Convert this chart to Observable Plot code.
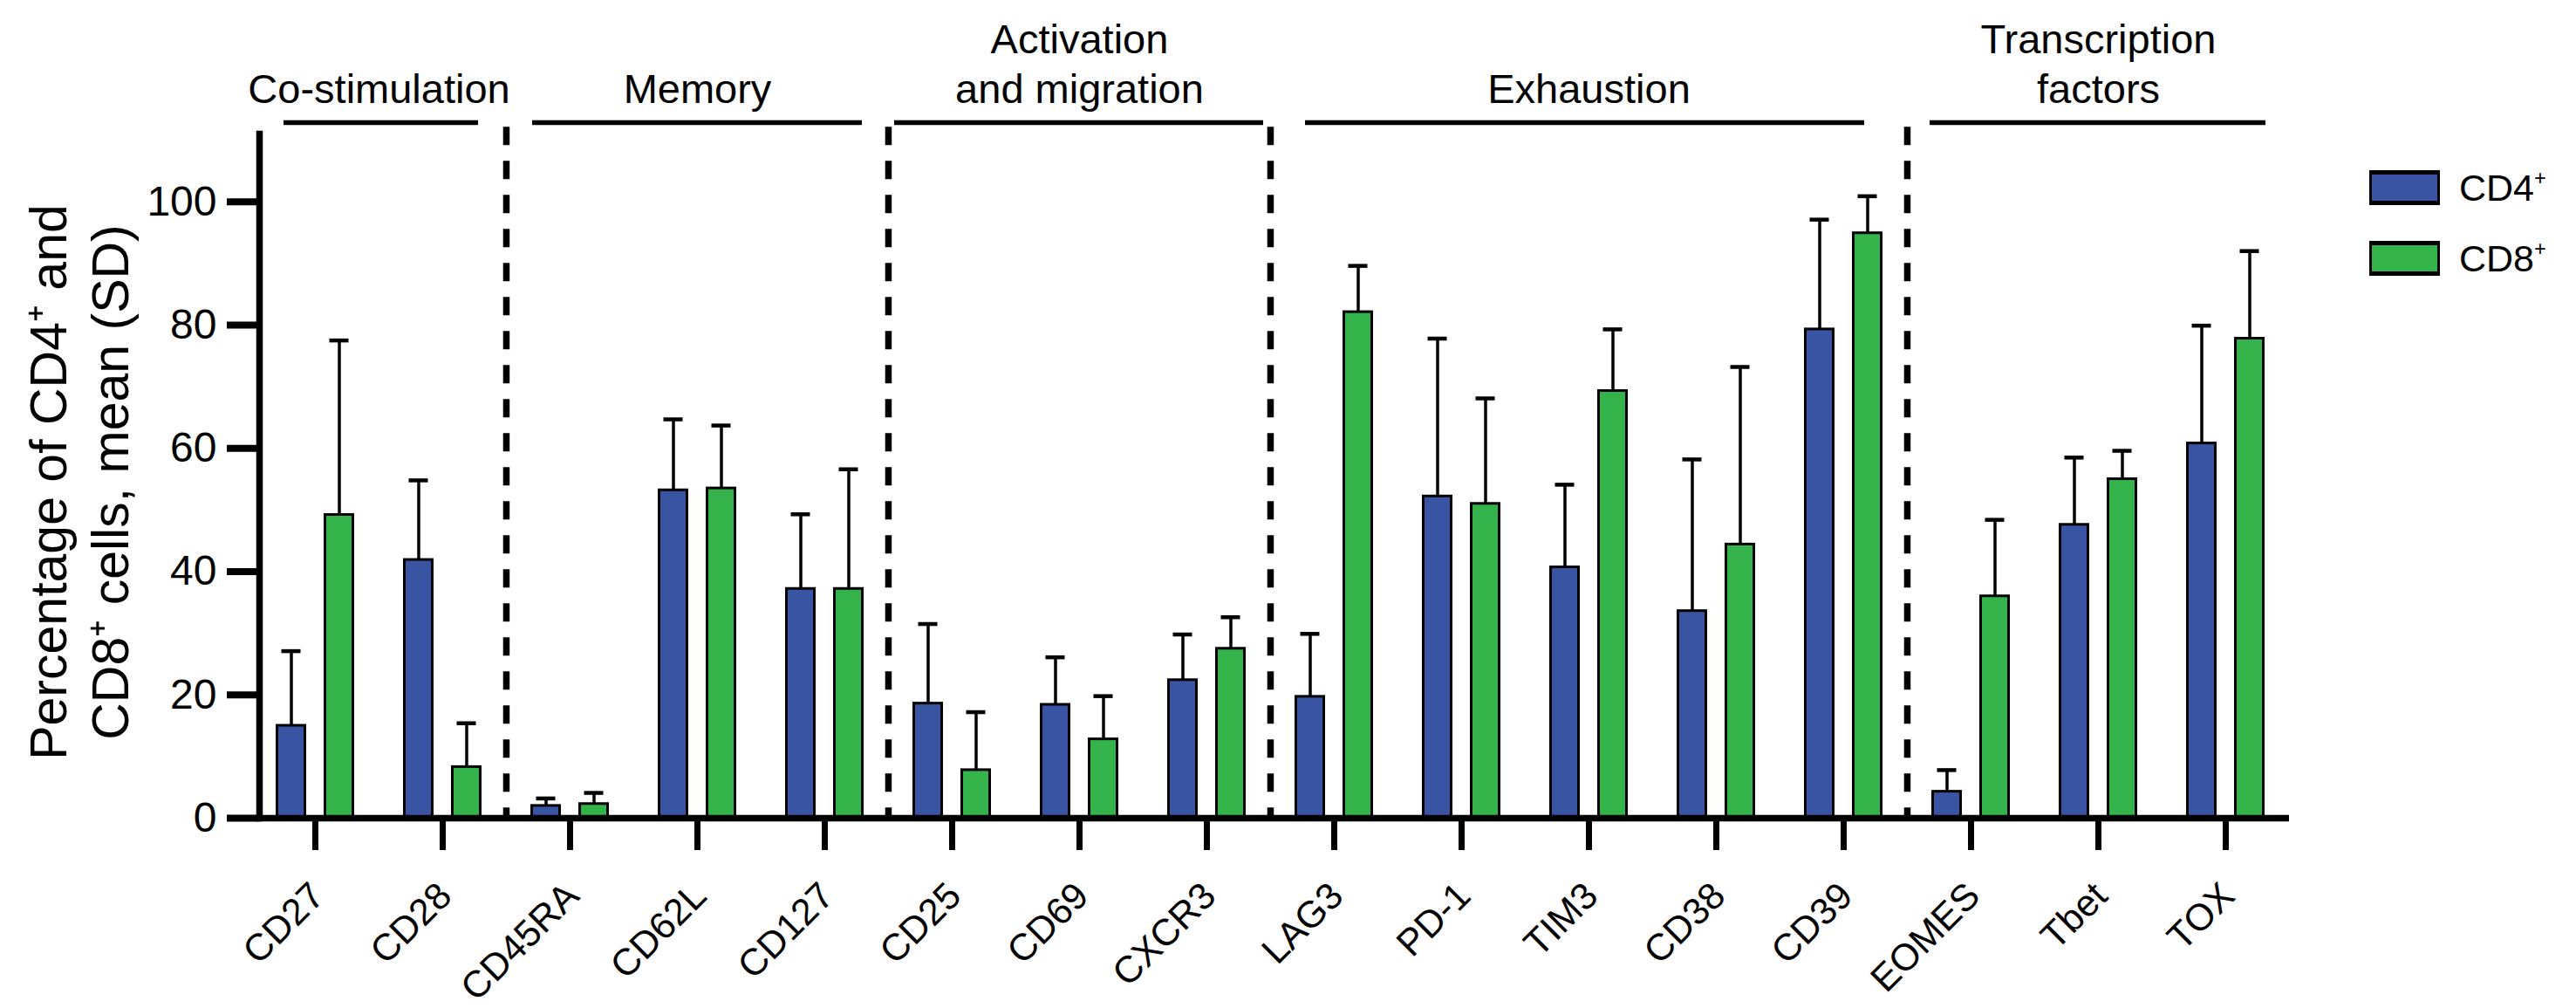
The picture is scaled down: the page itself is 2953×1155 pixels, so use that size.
<!DOCTYPE html>
<html>
<head>
<meta charset="utf-8">
<script src="https://cdn.jsdelivr.net/npm/d3@7"></script>
<script src="https://cdn.jsdelivr.net/npm/@observablehq/plot@0.6"></script>
<style>
  html, body { margin: 0; padding: 0; background: #fff; }
  #wrap { position: relative; width: 2953px; height: 1155px; background: #fff; font-family: "Liberation Sans", Arial, sans-serif; }
  #legend { position: absolute; left: 2716px; top: 194px; }
  .lg-row { display: flex; align-items: center; height: 42px; margin-bottom: 39px; }
  .lg-sw { width: 81px; height: 40px; box-sizing: border-box; border: 3.5px solid #000; border-top-width: 5px; border-bottom-width: 5px; }
  .lg-tx { margin-left: 22px; font-size: 43px; color: #000; line-height: 1; }
  .lg-tx sup { font-size: 0.55em; vertical-align: 0.75em; }
</style>
</head>
<body>
<div id="wrap">
  <div id="chart"></div>
  <div id="legend"></div>
</div>
<script>
// ---- data ----
const markers = ["CD27","CD28","CD45RA","CD62L","CD127","CD25","CD69","CXCR3","LAG3","PD-1","TIM3","CD38","CD39","EOMES","Tbet","TOX"];
const groupNames = ["Co-stimulation","Memory","Activation\nand migration","Exhaustion","Transcription\nfactors"];
const groupSizes = [2, 3, 3, 5, 3];
const cd4Mean = [15.0, 41.9, 2.0, 53.2, 37.2, 18.6, 18.4, 22.4, 19.7, 52.2, 40.7, 33.6, 79.3, 4.3, 47.6, 60.8];
const cd4SD   = [12.1, 12.9, 1.2, 11.5, 12.1, 12.9, 7.7, 7.4, 10.2, 25.6, 13.4, 24.6, 17.8, 3.5, 10.9, 19.1];
const cd8Mean = [49.2, 8.3, 2.3, 53.5, 37.2, 7.8, 12.8, 27.5, 82.1, 51.0, 69.3, 44.4, 94.9, 36.0, 55.0, 77.8];
const cd8SD   = [28.3, 7.1, 1.8, 10.2, 19.4, 9.4, 7.0, 5.1, 7.5, 17.1, 10.0, 28.8, 6.0, 12.4, 4.6, 14.2];
const seriesNames = ["CD4⁺", "CD8⁺"];
const yTicks = [0, 20, 40, 60, 80, 100];
const yTitle = "Percentage of CD4⁺ and\nCD8⁺ cells, mean (SD)";

// ---- styles / layout ----
const W = 2953, H = 1155;
const ML = 297, MR = 329, MT = 153, MB = 218, xInsetLeft = -10;
const colors = ["#3a54a4", "#33b34a"];
const barOffset = [-27.5, 27.5];
const step = (W - ML - MR - xInsetLeft) / markers.length;
const bracketLevel = 112.85;
const sepTop = 112.1;
const bracketInsets = [[37, 32], [30, 30], [7, 8], [40, 49], [26, 27]];

// ---- derived tables ----
const rows = markers.map((m, i) => ({
  marker: m,
  mean: [cd4Mean[i], cd8Mean[i]],
  sd: [cd4SD[i], cd8SD[i]]
}));
let start = 0;
const groups = groupNames.map((name, g) => {
  const members = markers.slice(start, start + groupSizes[g]);
  start += groupSizes[g];
  return {name, members, first: members[0], last: members[members.length - 1]};
});
const separators = groups.slice(1).map(g => g.first);

const marks = [];
// dashed separators
marks.push(Plot.ruleX(separators, {x: d => d, y1: sepTop, y2: 0, dx: -step / 2, stroke: "#000", strokeWidth: 7.5, strokeDasharray: "21,18"}));
// bars with error bars
seriesNames.forEach((s, k) => {
  marks.push(Plot.ruleX(rows, {x: "marker", y1: d => d.mean[k], y2: d => d.mean[k] + d.sd[k], dx: barOffset[k], stroke: "#000", strokeWidth: 3.5}));
  marks.push(Plot.tickY(rows, {x: "marker", y: d => d.mean[k] + d.sd[k], dx: barOffset[k], insetLeft: 62, insetRight: 62, stroke: "#000", strokeWidth: 4.5}));
  marks.push(Plot.barY(rows, {x: "marker", y: d => d.mean[k], dx: barOffset[k], insetLeft: 57, insetRight: 57, fill: colors[k], stroke: "#000", strokeWidth: 3}));
});
// axes
marks.push(Plot.ruleY([0], {stroke: "#000", strokeWidth: 7.5}));
marks.push(Plot.frame({anchor: "left", stroke: "#000", strokeWidth: 7.5}));
marks.push(Plot.axisY({ticks: yTicks, tickSize: 37, tickPadding: 12, strokeWidth: 8, fontSize: 48, label: null}));
marks.push(Plot.axisX({tickSize: 37, strokeWidth: 7, tickFormat: () => "", label: null}));
// category labels
marks.push(Plot.text(markers, {x: d => d, text: d => d, frameAnchor: "bottom", rotate: -45, textAnchor: "end", lineAnchor: "top", dx: -9, dy: 70, fontSize: 43}));
// y title
marks.push(Plot.text([yTitle], {text: d => d, frameAnchor: "left", rotate: -90, textAnchor: "middle", lineAnchor: "middle", dx: -209, dy: 7, fontSize: 59, lineHeight: 1.2}));
// group brackets and labels
groups.forEach((g, gi) => {
  marks.push(Plot.ruleY([g], {y: () => bracketLevel, x1: "first", x2: "last", insetLeft: bracketInsets[gi][0], insetRight: bracketInsets[gi][1], stroke: "#000", strokeWidth: 5.5}));
  const mid = (g.members.length - 1) / 2;
  const center = g.members[Math.floor(mid)];
  marks.push(Plot.text([g], {x: () => center, text: "name", frameAnchor: "top", lineAnchor: "bottom", dx: (mid - Math.floor(mid)) * step, dy: -36, fontSize: 47, lineHeight: 1.2}));
});

const plot = Plot.plot({
  width: W, height: H,
  marginTop: MT, marginBottom: MB, marginLeft: ML, marginRight: MR,
  x: {domain: markers, padding: 0, insetLeft: xInsetLeft, label: null},
  y: {domain: [0, 111], label: null},
  style: {fontFamily: '"Liberation Sans", Arial, sans-serif', background: "#fff", color: "#000", overflow: "visible"},
  marks
});
document.getElementById("chart").appendChild(plot);

// legend
const lg = document.getElementById("legend");
seriesNames.forEach((s, k) => {
  const row = document.createElement("div");
  row.className = "lg-row";
  const sw = document.createElement("div");
  sw.className = "lg-sw";
  sw.style.background = colors[k];
  const tx = document.createElement("div");
  tx.className = "lg-tx";
  tx.innerHTML = s.replace("⁺", "<sup>+</sup>");
  row.appendChild(sw); row.appendChild(tx);
  lg.appendChild(row);
});
</script>
</body>
</html>
